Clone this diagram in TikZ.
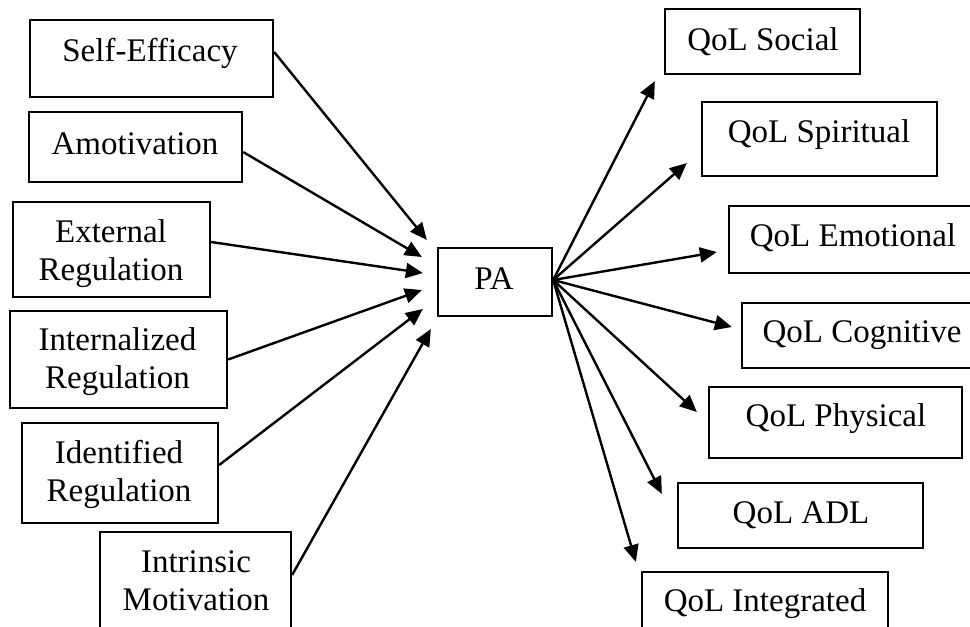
\documentclass[tikz,border=0pt]{standalone}
\usepackage{fontspec}
\setmainfont{Liberation Serif}
\usetikzlibrary{arrows.meta}
\tikzset{
  box/.style={draw, line width=2.3pt, inner sep=0pt, fill=none},
  lbl/.style={inner sep=0pt, font=\fontsize{33}{38}\selectfont, align=center},
  arr/.style={line width=2.4pt, -{Triangle[length=17pt,width=15pt]}}
}
\begin{document}
\begin{tikzpicture}[x=1pt,y=-1pt]
\useasboundingbox (0,0) rectangle (970,627);
\clip (0,0) rectangle (970,627);
\fill[white] (0,0) rectangle (970,627);
% left boxes
\node[box, minimum width=243pt, minimum height=77pt] (se) at (151.5,58.5) {};
\node[box, minimum width=213pt, minimum height=70pt] (am) at (135.5,147) {};
\node[box, minimum width=197pt, minimum height=95pt] (ex) at (111.5,249.5) {};
\node[box, minimum width=217pt, minimum height=97pt] (in) at (118.5,359.5) {};
\node[box, minimum width=196pt, minimum height=100pt] (id) at (120,473) {};
\node[box, minimum width=191pt, minimum height=100pt] (im) at (195.5,582) {};
% center
\node[box, minimum width=114pt, minimum height=68pt] (pa) at (495,282) {};
% right boxes
\node[box, minimum width=195pt, minimum height=65pt] (soc) at (762.5,41.5) {};
\node[box, minimum width=235pt, minimum height=74pt] (spi) at (819.5,139) {};
\node[box, minimum width=251pt, minimum height=67pt] (emo) at (854.5,239.5) {};
\node[box, minimum width=240pt, minimum height=65pt] (cog) at (862,335.5) {};
\node[box, minimum width=253pt, minimum height=71pt] (phy) at (835.5,422.5) {};
\node[box, minimum width=245pt, minimum height=65pt] (adl) at (800.5,515.5) {};
\node[box, minimum width=246pt, minimum height=68pt] (int) at (765,606) {};
% labels
\node[lbl, anchor=base] (tse) at (150,61.7) {Self-Efficacy};
\node[lbl, anchor=base] (tam) at (135,154) {Amotivation};
\node[lbl, anchor=north] (tex) at (111,219.8) {External\\Regulation};
\node[lbl, anchor=north] (tin) at (117.5,327.5) {Internalized\\Regulation};
\node[lbl, anchor=north] (tid) at (119,440.2) {Identified\\Regulation};
\node[lbl, anchor=north] (tim) at (196,550.8) {Intrinsic\\Motivation};
\node[lbl, anchor=base] (tpa) at (494,289.3) {PA};
\node[lbl, anchor=base] (tsoc) at (763,50) {QoL Social};
\node[lbl, anchor=base] (tspi) at (819,142) {QoL Spiritual};
\node[lbl, anchor=base] (temo) at (853,246) {QoL Emotional};
\node[lbl, anchor=base] (tcog) at (862,342.7) {QoL Cognitive};
\node[lbl, anchor=base] (tphy) at (836,426.7) {QoL Physical};
\node[lbl, anchor=base] (tadl) at (801,523.3) {QoL ADL};
\node[lbl, anchor=base] (tint) at (765,611.7) {QoL Integrated};
% left arrows
\draw[arr] ([yshift=6.5pt]se.east) -- ([xshift=-10pt,yshift=42pt]pa.west);
\draw[arr] ([yshift=-5pt]am.east) -- ([xshift=-15pt,yshift=25pt]pa.west);
\draw[arr] ([yshift=7.5pt]ex.east) -- ([xshift=-14pt,yshift=9pt]pa.west);
\draw[arr] (in.east) -- ([xshift=-15pt,yshift=-8pt]pa.west);
\draw[arr] ([yshift=8pt]id.east) -- ([xshift=-14pt,yshift=-27pt]pa.west);
\draw[arr] ([yshift=7pt]im.east) -- ([xshift=-6pt,yshift=-47pt]pa.west);
% right arrows
\draw[arr] ([yshift=2pt]pa.east) -- ([xshift=-9pt,yshift=-6pt]soc.south west);
\draw[arr] ([yshift=2pt]pa.east) -- ([xshift=-14pt,yshift=-24pt]spi.west);
\draw[arr] ([yshift=2pt]pa.east) -- ([xshift=-11pt,yshift=-12.5pt]emo.west);
\draw[arr] ([yshift=2pt]pa.east) -- ([xshift=-9pt,yshift=8.5pt]cog.west);
\draw[arr] ([yshift=2pt]pa.east) -- ([xshift=-11pt,yshift=10.5pt]phy.west);
\draw[arr] ([yshift=2pt]pa.east) -- ([xshift=-15pt,yshift=-12pt]adl.north west);
\draw[arr] ([yshift=2pt]pa.east) -- ([xshift=-5pt,yshift=9pt]int.north west);
\end{tikzpicture}
\end{document}
